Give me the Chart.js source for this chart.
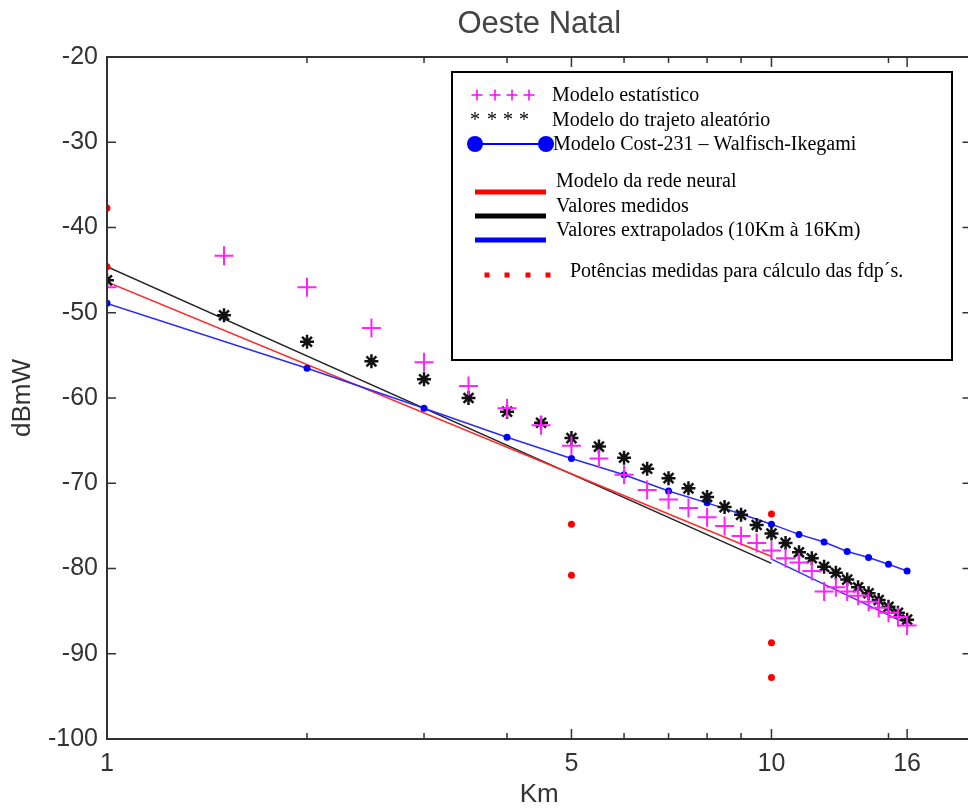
<!DOCTYPE html>
<html>
<head>
<meta charset="utf-8">
<title>Oeste Natal</title>
<script src="https://cdn.jsdelivr.net/npm/chart.js@4.4.1/dist/chart.umd.min.js"></script>
<style>
    html, body { margin: 0; padding: 0; background: #fff; overflow: hidden; }
    #wrap { width: 983px; height: 808px; }
</style>
</head>
<body>
<div id="wrap"><canvas id="graficoOesteNatal" width="983" height="808"></canvas></div>
<script>
// ==============================
// Dados
// ==============================
const distKm = [1, 1.5, 2, 2.5, 3, 3.5, 4, 4.5, 5, 5.5, 6, 6.5, 7, 7.5, 8, 8.5,
                9, 9.5, 10, 10.5, 11, 11.5, 12, 12.5, 13, 13.5, 14, 14.5, 15, 15.5, 16];

const modeloEstatistico = [-47.0, -43.3, -47.0, -51.8, -55.8, -58.6, -61.2, -63.2, -65.6, -67.1,
                           -69.0, -70.8, -71.9, -72.9, -74.0, -75.0, -76.2, -77.0, -77.9, -78.8,
                           -79.3, -80.3, -82.7, -82.2, -82.7, -83.2, -83.9, -84.6, -85.2, -85.7, -86.7];

const modeloTrajeto = [-46.2, -50.3, -53.4, -55.7, -57.8, -60.0, -61.6, -62.9, -64.7, -65.7,
                       -67.0, -68.3, -69.4, -70.6, -71.6, -72.8, -73.7, -74.9, -75.9, -77.0,
                       -78.1, -78.8, -79.8, -80.5, -81.3, -82.2, -82.9, -83.7, -84.5, -85.2, -86.0];

const distCost = [1, 2, 3, 4, 5, 6, 7, 8, 9, 10, 11, 12, 13, 14, 15, 16];
const modeloCost231 = [-48.9, -56.5, -61.2, -64.6, -67.1, -69.0, -70.9, -72.3,
                       -73.6, -74.8, -76.0, -76.9, -78.0, -78.7, -79.5, -80.3];

const redeNeuralKm = [1, 10];
const redeNeural = [-46.4, -78.6];

const medidosKm = [1, 10];
const valoresMedidos = [-44.6, -79.4];

const extrapKm = [10, 16];
const valoresExtrap = [-78.9, -86.5];

const potenciasKm = [1, 1, 5, 5, 10, 10, 10];
const potenciasMedidas = [-37.7, -44.6, -74.8, -80.8, -73.6, -88.7, -92.8];

const xTicks = [1, 2, 3, 4, 5, 6, 7, 8, 9, 10, 15, 16];
const xTickLabels = [1, 5, 10, 16];
const yMin = -100, yMax = -20, yStep = 10;

function pontos(xs, ys) {
    return xs.map((x, i) => ({ x: x, y: ys[i] }));
}

const fonteEixo = "'Liberation Sans', Arial, sans-serif";
const fonteLegenda = "'Liberation Serif', 'Times New Roman', serif";

// titulo centrado sobre a área do gráfico
const tituloPlugin = {
    id: "tituloCentro",
    afterDraw(chart) {
        const { ctx, chartArea } = chart;
        ctx.save();
        ctx.fillStyle = "#444";
        ctx.font = "31px " + fonteEixo;
        ctx.textAlign = "center";
        ctx.textBaseline = "middle";
        ctx.fillText("Oeste Natal", (chartArea.left + chartArea.right) / 2, 24);
        ctx.restore();
    }
};

// caixa e marcas para dentro (estilo matlab)
const caixaPlugin = {
    id: "caixaTicks",
    afterDatasetsDraw(chart) {
        const { ctx, chartArea: a, scales } = chart;
        ctx.save();
        ctx.strokeStyle = "#333";
        ctx.lineWidth = 2;
        ctx.strokeRect(a.left, a.top, a.right - a.left, a.bottom - a.top);

        ctx.lineWidth = 1.5;
        ctx.beginPath();
        scales.x.ticks.forEach(t => {
            const px = scales.x.getPixelForValue(t.value);
            const len = xTickLabels.includes(t.value) ? 10 : 6;
            ctx.moveTo(px, a.bottom); ctx.lineTo(px, a.bottom - len);
            ctx.moveTo(px, a.top); ctx.lineTo(px, a.top + len);
        });
        scales.y.ticks.forEach(t => {
            const py = scales.y.getPixelForValue(t.value);
            ctx.moveTo(a.left, py); ctx.lineTo(a.left + 9, py);
            ctx.moveTo(a.right, py); ctx.lineTo(a.right - 9, py);
        });
        ctx.stroke();
        ctx.restore();
    }
};

// legenda desenhada como no original
const legendaPlugin = {
    id: "legendaCaixa",
    afterDraw(chart) {
        const ctx = chart.ctx;
        ctx.save();
        ctx.fillStyle = "#fff";
        ctx.fillRect(452, 72, 500, 288);
        ctx.strokeStyle = "#000";
        ctx.lineWidth = 2;
        ctx.strokeRect(452, 72, 500, 288);

        // + + + +
        ctx.strokeStyle = "#ff00ff";
        ctx.lineWidth = 1.5;
        ctx.beginPath();
        [477, 495, 512, 529].forEach(cx => {
            ctx.moveTo(cx - 5.5, 95); ctx.lineTo(cx + 5.5, 95);
            ctx.moveTo(cx, 89.5); ctx.lineTo(cx, 100.5);
        });
        ctx.stroke();

        // * * * *
        ctx.fillStyle = "#000";
        ctx.font = "20px " + fonteLegenda;
        ctx.textAlign = "center";
        ctx.textBaseline = "middle";
        [475, 492, 508, 524].forEach(cx => ctx.fillText("*", cx, 121));

        // Cost-231
        ctx.strokeStyle = "#0000ff";
        ctx.lineWidth = 2;
        ctx.beginPath();
        ctx.moveTo(475, 144); ctx.lineTo(546, 144);
        ctx.stroke();
        ctx.fillStyle = "#0000ff";
        [475, 546].forEach(cx => {
            ctx.beginPath();
            ctx.arc(cx, 144, 8, 0, Math.PI * 2);
            ctx.fill();
        });

        // linhas grossas
        [["#ff0000", 192], ["#000000", 216], ["#0000ff", 240]].forEach(([cor, y]) => {
            ctx.fillStyle = cor;
            ctx.fillRect(475, y - 2.5, 71, 5);
        });

        // pontos vermelhos
        ctx.fillStyle = "#ff0000";
        [487, 507, 528, 548].forEach(cx => ctx.fillRect(cx - 2.5, 272.5, 5, 5));

        ctx.fillStyle = "#000";
        ctx.textAlign = "left";
        ctx.textBaseline = "middle";
        ctx.fillText("Modelo estatístico", 552, 96);
        ctx.fillText("Modelo do trajeto aleatório", 552, 121);
        ctx.fillText("Modelo Cost-231 \u2013 Walfisch-Ikegami", 553, 145);
        ctx.fillText("Modelo da rede neural", 556, 182);
        ctx.fillText("Valores medidos", 556, 207);
        ctx.fillText("Valores extrapolados (10Km à 16Km)", 556, 231);
        ctx.fillText("Potências medidas para cálculo das fdp\u00b4s.", 570, 272);
        ctx.restore();
    }
};

const ctx = document.getElementById("graficoOesteNatal").getContext("2d");

new Chart(ctx, {
    type: "scatter",
    data: {
        datasets: [
            {
                label: "Potências medidas para cálculo das fdp´s.",
                data: pontos(potenciasKm, potenciasMedidas),
                pointStyle: "circle",
                pointRadius: 3.5,
                backgroundColor: "#ff0000",
                borderWidth: 0,
                order: 0
            },
            {
                label: "Modelo estatístico",
                data: pontos(distKm, modeloEstatistico),
                pointStyle: "cross",
                pointRadius: 9.5,
                borderColor: "#ff22ff",
                borderWidth: 2,
                order: 1
            },
            {
                label: "Modelo do trajeto aleatório",
                data: pontos(distKm, modeloTrajeto),
                pointStyle: "star",
                pointRadius: 7,
                borderColor: "#111",
                borderWidth: 2.5,
                order: 2
            },
            {
                label: "Modelo Cost-231 – Walfisch-Ikegami",
                data: pontos(distCost, modeloCost231),
                showLine: true,
                borderColor: "#2a2aff",
                borderWidth: 1.5,
                pointRadius: 3.5,
                pointBackgroundColor: "#0000ff",
                pointBorderWidth: 0,
                order: 3
            },
            {
                label: "Valores extrapolados (10Km à 16Km)",
                data: pontos(extrapKm, valoresExtrap),
                showLine: true,
                borderColor: "#3030ff",
                borderWidth: 1.5,
                pointRadius: 0,
                order: 4
            },
            {
                label: "Modelo da rede neural",
                data: pontos(redeNeuralKm, redeNeural),
                showLine: true,
                borderColor: "#ff2a2a",
                borderWidth: 1.5,
                pointRadius: 0,
                order: 5
            },
            {
                label: "Valores medidos",
                data: pontos(medidosKm, valoresMedidos),
                showLine: true,
                borderColor: "#222",
                borderWidth: 1.5,
                pointRadius: 0,
                order: 6
            }
        ]
    },
    options: {
        responsive: false,
        animation: false,
        devicePixelRatio: 1,
        layout: { padding: { top: 57, right: 4, left: 0, bottom: 0 } },
        plugins: {
            legend: { display: false },
            tooltip: { enabled: false },
            title: { display: false }
        },
        scales: {
            x: {
                type: "logarithmic",
                min: 1,
                max: 20,
                grid: { display: false, drawTicks: false },
                border: { display: false },
                afterBuildTicks: s => { s.ticks = xTicks.map(v => ({ value: v })); },
                afterFit: s => { s.height = 69; },
                ticks: {
                    autoSkip: false,
                    maxRotation: 0,
                    padding: 10,
                    color: "#333",
                    font: { family: fonteEixo, size: 25 },
                    callback: v => xTickLabels.includes(v) ? String(v) : ""
                },
                title: {
                    display: true,
                    text: "Km",
                    color: "#333",
                    font: { family: fonteEixo, size: 26, lineHeight: 1 },
                    padding: { top: 0, bottom: 0 }
                }
            },
            y: {
                min: yMin,
                max: yMax,
                grid: { display: false, drawTicks: false },
                border: { display: false },
                afterFit: s => { s.width = 107; },
                ticks: {
                    stepSize: yStep,
                    padding: 9,
                    color: "#333",
                    font: { family: fonteEixo, size: 25 }
                },
                title: {
                    display: true,
                    text: "dBmW",
                    color: "#333",
                    font: { family: fonteEixo, size: 26, lineHeight: 1.2 },
                    padding: { top: 7, bottom: 0 }
                }
            }
        }
    },
    plugins: [caixaPlugin, tituloPlugin, legendaPlugin]
});
</script>
</body>
</html>
